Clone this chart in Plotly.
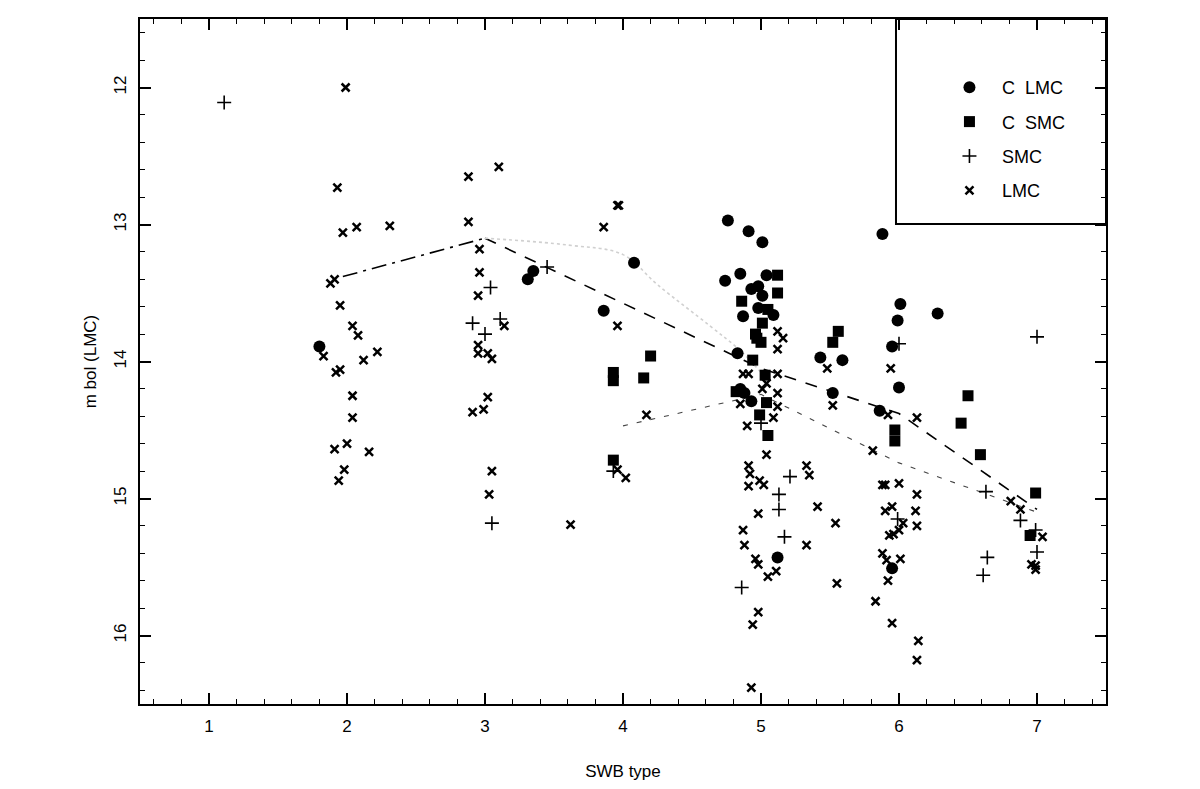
import plotly.graph_objects as go

# ---------------- data ----------------
c_lmc_x = [1.80, 3.31, 3.35, 3.86, 4.08, 4.76, 4.91, 5.01, 4.74, 4.85, 5.04, 4.98, 4.93, 4.87,
           4.98, 5.09, 5.01, 4.83, 4.85, 4.88, 4.93, 5.12, 5.43, 5.59, 5.52, 5.88, 6.01, 6.28,
           5.99, 5.95, 6.00, 5.86, 5.95]
c_lmc_y = [13.89, 13.40, 13.34, 13.63, 13.28, 12.97, 13.05, 13.13, 13.41, 13.36, 13.37, 13.45, 13.47, 13.67,
           13.61, 13.66, 13.52, 13.94, 14.20, 14.23, 14.29, 15.43, 13.97, 13.99, 14.23, 13.07, 13.58, 13.65,
           13.70, 13.89, 14.19, 14.36, 15.51]

c_smc_x = [3.93, 3.93, 4.15, 4.20, 3.93, 5.12, 5.12, 4.86, 5.01, 4.97, 5.05, 4.96, 5.00, 4.94, 4.82,
           5.03, 4.99, 5.05, 5.04, 5.56, 5.52, 5.97, 5.97, 6.50, 6.45, 6.59, 6.99, 6.95]
c_smc_y = [14.08, 14.14, 14.12, 13.96, 14.72, 13.37, 13.50, 13.56, 13.72, 13.83, 13.62, 13.80, 13.86, 13.99, 14.22,
           14.10, 14.39, 14.54, 14.30, 13.78, 13.86, 14.50, 14.58, 14.25, 14.45, 14.68, 14.96, 15.27]

smc_x = [1.11, 3.04, 2.91, 3.00, 3.11, 3.05, 3.45, 3.93, 5.00, 5.21, 5.13, 5.13, 5.17, 4.86,
         6.00, 7.00, 6.63, 5.99, 6.64, 6.61, 6.88, 6.99, 7.00]
smc_y = [12.11, 13.46, 13.72, 13.80, 13.69, 15.18, 13.31, 14.80, 14.45, 14.84, 14.97, 15.08, 15.28, 15.65,
         13.87, 13.82, 14.95, 15.15, 15.43, 15.56, 15.16, 15.23, 15.39]

lmc_x = [1.99, 1.93, 2.88, 3.10, 2.88, 1.97, 2.07, 2.31, 2.96, 2.96, 2.95, 1.88, 1.91, 1.95, 2.04,
         2.08, 2.22, 3.14, 2.95, 2.95, 3.02, 3.05, 1.83, 2.12, 1.92, 1.95, 2.04, 2.04, 1.91, 2.00,
         2.16, 1.98, 1.94, 3.02, 2.91, 2.99, 3.05, 3.03, 3.96, 3.97, 3.86, 3.96, 4.17, 3.96, 4.02,
         3.62, 5.12, 5.16, 5.12, 4.87, 4.91, 5.03, 5.12, 5.04, 5.01, 5.12, 5.12, 4.85, 5.09, 4.90,
         5.04, 4.91, 4.92, 4.99, 5.02, 4.91, 4.98, 4.87, 4.88, 4.96, 4.98, 5.05, 5.11, 4.98, 4.94,
         4.93, 5.33, 5.35, 5.41, 5.54, 5.33, 5.55, 5.48, 5.52, 5.83, 5.95, 5.94, 5.92, 6.13, 5.81,
         5.88, 5.90, 6.00, 6.13, 5.90, 5.95, 6.12, 6.13, 6.03, 6.00, 5.93, 5.96, 5.88, 5.91, 6.01,
         5.92, 6.14, 6.13, 6.81, 6.88, 7.04, 6.96, 6.99, 6.99]
lmc_y = [12.00, 12.73, 12.65, 12.58, 12.98, 13.06, 13.02, 13.01, 13.18, 13.35, 13.52, 13.43, 13.40, 13.59, 13.74,
         13.81, 13.93, 13.74, 13.88, 13.94, 13.94, 13.98, 13.96, 13.99, 14.08, 14.06, 14.25, 14.41, 14.64, 14.60,
         14.66, 14.79, 14.87, 14.26, 14.37, 14.35, 14.80, 14.97, 12.86, 12.86, 13.02, 13.74, 14.39, 14.79, 14.85,
         15.19, 13.78, 13.83, 13.91, 14.09, 14.09, 14.10, 14.09, 14.16, 14.20, 14.23, 14.33, 14.31, 14.41, 14.47,
         14.68, 14.76, 14.82, 14.87, 14.90, 14.91, 15.11, 15.23, 15.34, 15.44, 15.48, 15.57, 15.53, 15.83, 15.92,
         16.38, 14.76, 14.83, 15.06, 15.18, 15.34, 15.62, 14.05, 14.32, 15.75, 15.91, 14.05, 14.39, 14.41, 14.65,
         14.90, 14.90, 14.89, 14.97, 15.09, 15.06, 15.09, 15.20, 15.18, 15.23, 15.27, 15.26, 15.40, 15.45, 15.44,
         15.60, 16.04, 16.18, 15.02, 15.08, 15.28, 15.48, 15.52, 15.49]

# model sequences
seq_a1_x = [1.97, 3.0]
seq_a1_y = [13.38, 13.10]
seq_a2_x = [3.0, 5.0, 6.0, 7.0]
seq_a2_y = [13.10, 14.05, 14.38, 15.08]
seq_b_x = [3.0, 3.6, 4.0, 4.25, 4.63, 4.85, 5.0]
seq_b_y = [13.10, 13.15, 13.22, 13.44, 13.74, 13.92, 14.08]
seq_c_x = [4.0, 5.0, 6.0, 7.0]
seq_c_y = [14.47, 14.24, 14.74, 15.10]

x_ticks = [1, 2, 3, 4, 5, 6, 7]
y_ticks = [12, 13, 14, 15, 16]

FONT = "Liberation Sans, Arial, sans-serif"

fig = go.Figure()

fig.add_trace(go.Scatter(x=seq_a1_x, y=seq_a1_y, mode="lines", showlegend=False, hoverinfo="skip",
                         line=dict(color="black", width=1.6, dash="longdashdot")))
fig.add_trace(go.Scatter(x=seq_a2_x, y=seq_a2_y, mode="lines", showlegend=False, hoverinfo="skip",
                         line=dict(color="black", width=1.6, dash="12px,10px")))
fig.add_trace(go.Scatter(x=seq_b_x, y=seq_b_y, mode="lines", showlegend=False, hoverinfo="skip",
                         line=dict(color="#d0d0d0", width=1.6, dash="dot", shape="spline")))
fig.add_trace(go.Scatter(x=seq_c_x, y=seq_c_y, mode="lines", showlegend=False, hoverinfo="skip",
                         line=dict(color="#444444", width=1.1, dash="5px,9px")))

fig.add_trace(go.Scatter(x=c_lmc_x, y=c_lmc_y, mode="markers", name="C  LMC", legendgroup="a",
                         marker=dict(symbol="circle", size=12, color="black")))
fig.add_trace(go.Scatter(x=c_smc_x, y=c_smc_y, mode="markers", name="C  SMC", legendgroup="b",
                         marker=dict(symbol="square", size=11, color="black")))
fig.add_trace(go.Scatter(x=smc_x, y=smc_y, mode="markers", name="SMC", legendgroup="c",
                         marker=dict(symbol="cross-thin", size=10, color="black",
                                     line=dict(color="black", width=1.6))))
fig.add_trace(go.Scatter(x=lmc_x, y=lmc_y, mode="markers", name="LMC", legendgroup="d",
                         marker=dict(symbol="x-thin", size=8, color="black",
                                     line=dict(color="black", width=2.5))))

axis_common = dict(
    showgrid=False, zeroline=False, showline=True, linecolor="black", linewidth=2,
    mirror="allticks", ticks="inside", ticklen=11, tickwidth=1.5, tickcolor="black",
    tickfont=dict(family=FONT, size=17, color="black"), automargin=False,
)

fig.update_xaxes(range=[0.5, 7.5], tickvals=x_ticks, ticktext=[str(v) for v in x_ticks],
                 ticklabelstandoff=6,
                 minor=dict(dtick=0.2, tick0=0, ticks="inside", ticklen=5, tickwidth=1.2, tickcolor="black"),
                 title=dict(text="SWB type", font=dict(family=FONT, size=17, color="black"), standoff=31),
                 **axis_common)
fig.update_yaxes(range=[16.5, 11.5], tickvals=y_ticks, ticktext=[str(v) for v in y_ticks], tickangle=-90,
                 ticklabelstandoff=5,
                 minor=dict(dtick=0.2, tick0=0, ticks="inside", ticklen=5, tickwidth=1.2, tickcolor="black"),
                 title=dict(text="m bol (LMC)", font=dict(family=FONT, size=17, color="black"), standoff=10),
                 **axis_common)

# legend frame
fig.add_shape(type="rect", xref="paper", yref="paper", x0=0.7826, x1=1.0, y0=0.7007, y1=1.0,
              line=dict(color="black", width=2), fillcolor="rgba(0,0,0,0)")

fig.update_layout(
    width=1184, height=773,
    margin=dict(l=132, r=86, t=11, b=77),
    paper_bgcolor="white", plot_bgcolor="white",
    font=dict(family=FONT, size=17, color="black"),
    legend=dict(x=0.825, y=0.927, xanchor="left", yanchor="top", bgcolor="rgba(0,0,0,0)",
                borderwidth=0, tracegroupgap=8, itemwidth=55,
                font=dict(family=FONT, size=18, color="black")),
)

fig.write_html("out.html")
